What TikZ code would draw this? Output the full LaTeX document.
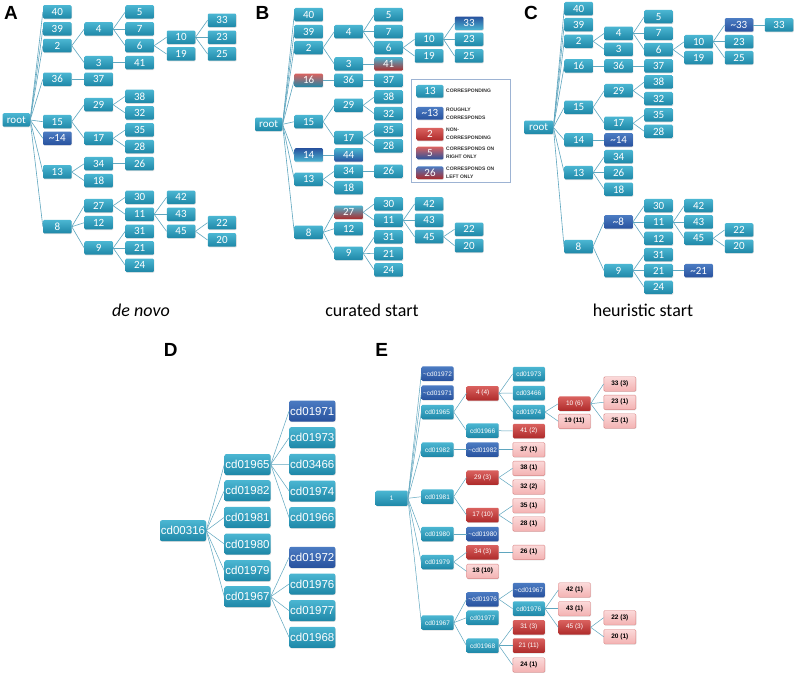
\documentclass[tikz,border=0pt]{standalone}
\usepackage{fontspec}
\setmainfont{Carlito}
\newfontfamily\arialf{Liberation Sans}
\usetikzlibrary{shadows}
\definecolor{tealT}{HTML}{4BB6D2}
\definecolor{tealB}{HTML}{1E87A7}
\definecolor{blueT}{HTML}{4B7BC2}
\definecolor{blueB}{HTML}{28529E}
\definecolor{redT}{HTML}{DA625F}
\definecolor{redB}{HTML}{AE2A2A}
\definecolor{pinkT}{HTML}{FBD9D9}
\definecolor{pinkB}{HTML}{F3B2B2}
\definecolor{pinkD}{HTML}{D98484}
\definecolor{edgec}{HTML}{5FA6BF}
\definecolor{legc}{HTML}{9DB3D3}
\tikzset{
 nb/.style={rectangle, rounded corners=1.2pt, minimum width=28.5pt, minimum height=13.5pt, inner sep=0pt, text=white, font=\fontsize{11}{11}\selectfont, drop shadow={opacity=0.25, shadow xshift=0.5pt, shadow yshift=-0.7pt}},
 tl/.style={nb, top color=tealT, bottom color=tealB},
 bl/.style={nb, top color=blueT, bottom color=blueB},
 rd/.style={nb, top color=redT, bottom color=redB},
 tealred/.style={nb, top color=tealT, middle color=tealB!70!redT, bottom color=redB},
 redteal/.style={nb, top color=redT, middle color=redT!40!tealB, bottom color=tealB},
 redblue/.style={nb, top color=redT, middle color=redT!40!blueB, bottom color=blueB},
 bluered/.style={nb, top color=blueT, middle color=blueB!60!redT, bottom color=redB},
 blueteal/.style={nb, top color=blueB, bottom color=tealT},
 tealblue/.style={nb, top color=tealT, bottom color=blueB},
 lnk/.style={draw=edgec, line width=0.6pt},
 dn/.style={minimum width=46pt, minimum height=21pt, rounded corners=2pt, font=\arialf\fontsize{11.5}{11.5}\selectfont},
 en/.style={minimum width=32pt, minimum height=14.5pt, font=\arialf\fontsize{6.5}{6.5}\selectfont},
 ep/.style={nb, en, top color=pinkT, bottom color=pinkB, draw=pinkD, line width=0.4pt, text=black, font=\arialf\bfseries\fontsize{6.5}{6.5}\selectfont},
 plabel/.style={font=\arialf\bfseries\fontsize{19}{19}\selectfont, inner sep=0pt},
 legtxt/.style={anchor=west, align=left, inner sep=0pt, text=black!80, font=\arialf\bfseries\fontsize{5}{8.4}\selectfont},
 captxt/.style={font=\fontsize{18}{18}\selectfont, inner sep=0pt}
}
\begin{document}
\begin{tikzpicture}[x=1pt,y=-1pt]
\path[use as bounding box, fill=white] (0,0) rectangle (795,676);
% ---------------- Panel A
\node[plabel] (labA) at (11,13.3) {A};
\node[tl, minimum width=27.3pt] (aroot) at (16.3,120) {root};
\node[tl] (a40) at (57.3,12) {40};
\node[tl] (a39) at (57.3,29) {39};
\node[tl] (a2) at (57.3,45.7) {2};
\node[tl] (a4) at (98.7,29) {4};
\node[tl] (a3) at (98.7,62.7) {3};
\node[tl] (a5) at (139.7,12) {5};
\node[tl] (a7) at (139.7,29) {7};
\node[tl] (a6) at (139.7,45.7) {6};
\node[tl] (a41) at (139.7,62.7) {41};
\node[tl] (a10) at (181,37.3) {10};
\node[tl] (a19) at (181,54) {19};
\node[tl] (a33) at (222,20.3) {33};
\node[tl] (a23) at (222,37.3) {23};
\node[tl] (a25) at (222,54) {25};
\node[tl] (a36) at (57.3,79.3) {36};
\node[tl] (a37) at (98.7,79.3) {37};
\node[tl] (a15) at (57.3,121.7) {15};
\node[bl] (a14) at (57.3,138.3) {\textasciitilde14};
\node[tl] (a29) at (98.7,104.7) {29};
\node[tl] (a17) at (98.7,138.3) {17};
\node[tl] (a38) at (139.7,96.3) {38};
\node[tl] (a32) at (139.7,113) {32};
\node[tl] (a35) at (139.7,130) {35};
\node[tl] (a28) at (139.7,146.7) {28};
\node[tl] (a13) at (57.3,172) {13};
\node[tl] (a34) at (98.7,163.7) {34};
\node[tl] (a18) at (98.7,180.7) {18};
\node[tl] (a26) at (139.7,163.7) {26};
\node[tl] (a8) at (57.3,226.7) {8};
\node[tl] (a27) at (98.7,205.7) {27};
\node[tl] (a12) at (98.7,222.7) {12};
\node[tl] (a9) at (98.7,248) {9};
\node[tl] (a30) at (139.7,197.3) {30};
\node[tl] (a11) at (139.7,214.3) {11};
\node[tl] (a31) at (139.7,231.3) {31};
\node[tl] (a21) at (139.7,248) {21};
\node[tl] (a24) at (139.7,265.3) {24};
\node[tl] (a42) at (181,197.3) {42};
\node[tl] (a43) at (181,214.3) {43};
\node[tl] (a45) at (181,231.3) {45};
\node[tl] (a22) at (222,222.7) {22};
\node[tl] (a20) at (222,240) {20};
\foreach \p/\c in {aroot/a40, aroot/a39, aroot/a2, aroot/a36, aroot/a15, aroot/a14, aroot/a13, aroot/a8, a2/a4, a2/a3, a4/a5, a4/a7, a4/a6, a6/a10, a6/a19, a10/a33, a10/a23, a10/a25, a3/a41, a36/a37, a15/a29, a15/a17, a29/a38, a29/a32, a17/a35, a17/a28, a13/a34, a13/a18, a34/a26, a8/a27, a8/a12, a8/a9, a27/a30, a27/a11, a11/a42, a11/a43, a11/a45, a45/a22, a45/a20, a9/a31, a9/a21, a9/a24}
  \draw[lnk] (\p.east) -- (\c.west);
\node[captxt] (capA) at (141,310) {\itshape de novo};
% ---------------- Panel B
\node[plabel] (labB) at (262.5,12.8) {B};
\node[tl, minimum width=27.3pt] (broot) at (268.7,124.3) {root};
\node[tl] (b40) at (308.7,14.7) {40};
\node[tl] (b39) at (308.7,31.7) {39};
\node[tl] (b2) at (308.7,47.7) {2};
\node[tl] (b4) at (348.7,31.7) {4};
\node[tl] (b3) at (348.7,64) {3};
\node[tl] (b5) at (388.7,14.7) {5};
\node[tl] (b7) at (388.7,31.7) {7};
\node[tl] (b6) at (388.7,47.7) {6};
\node[tealred] (b41) at (388.7,64) {41};
\node[tl] (b10) at (429,39.3) {10};
\node[tl] (b19) at (429,56) {19};
\node[blueteal] (b33) at (469,23.3) {33};
\node[tl] (b23) at (469,39.3) {23};
\node[tl] (b25) at (469,56) {25};
\node[redteal] (b16) at (308.7,80.3) {16};
\node[tl] (b36) at (348.7,80.3) {36};
\node[tl] (b37) at (388.7,80.3) {37};
\node[tl] (b38) at (388.7,97) {38};
\node[tl] (b29) at (348.7,105.3) {29};
\node[tl] (b32) at (388.7,113.7) {32};
\node[tl] (b15) at (308.7,121.7) {15};
\node[tl] (b17) at (348.7,137.7) {17};
\node[tl] (b35) at (388.7,130) {35};
\node[tl] (b28) at (388.7,146) {28};
\node[blueteal] (b14) at (308.7,155) {14};
\node[tealblue] (b44) at (348.7,155) {44};
\node[tl] (b34) at (348.7,171.3) {34};
\node[tl] (b13) at (308.7,179.3) {13};
\node[tl] (b18) at (348.7,187.7) {18};
\node[tl] (b26) at (388.7,171.3) {26};
\node[tl] (b30) at (388.7,204) {30};
\node[tealred] (b27) at (348.7,212.3) {27};
\node[tl] (b11) at (388.7,220.3) {11};
\node[tl] (b12) at (348.7,228.7) {12};
\node[tl] (b8) at (308.7,232.3) {8};
\node[tl] (b31) at (388.7,237) {31};
\node[tl] (b9) at (348.7,253.3) {9};
\node[tl] (b21) at (388.7,253.7) {21};
\node[tl] (b24) at (388.7,270) {24};
\node[tl] (b42) at (429,204) {42};
\node[tl] (b43) at (429,220.3) {43};
\node[tl] (b45) at (429,236.7) {45};
\node[tl] (b22) at (469,229.3) {22};
\node[tl] (b20) at (469,245.7) {20};
\foreach \p/\c in {broot/b40, broot/b39, broot/b2, broot/b16, broot/b15, broot/b14, broot/b13, broot/b8, b2/b4, b2/b3, b4/b5, b4/b7, b4/b6, b6/b10, b6/b19, b10/b33, b10/b23, b10/b25, b3/b41, b16/b36, b36/b37, b15/b29, b15/b17, b29/b38, b29/b32, b17/b35, b17/b28, b14/b44, b13/b34, b13/b18, b34/b26, b8/b27, b8/b12, b8/b9, b27/b30, b27/b11, b11/b42, b11/b43, b11/b45, b45/b22, b45/b20, b9/b31, b9/b21, b9/b24}
  \draw[lnk] (\p.east) -- (\c.west);
\node[captxt] (capB) at (372,310) {curated start};
% legend
\node[draw=legc, line width=0.8pt, minimum width=99pt, minimum height=103.5pt, inner sep=0pt] (legbox) at (461.2,130.8) {};
\node[tl, minimum width=26.7pt, minimum height=12.7pt] (l1) at (430,91.3) {13};
\node[bl, minimum width=26.7pt, minimum height=12.7pt] (l2) at (430,113.3) {\textasciitilde13};
\node[rd, minimum width=26.7pt, minimum height=12.7pt] (l3) at (430,134.3) {2};
\node[redblue, minimum width=26.7pt, minimum height=12.7pt] (l4) at (430,153) {5};
\node[bluered, minimum width=26.7pt, minimum height=12.7pt] (l5) at (430,172.8) {26};
\node[legtxt] (t1) at (446,91) {CORRESPONDING};
\node[legtxt] (t2) at (446,113.5) {ROUGHLY\\CORRESPONDS};
\node[legtxt] (t3) at (446,133.5) {NON-\\CORRESPONDING};
\node[legtxt] (t4) at (446,153) {CORRESPONDS ON\\RIGHT ONLY};
\node[legtxt] (t5) at (446,172.6) {CORRESPONDS ON\\LEFT ONLY};
% ---------------- Panel C
\node[plabel] (labC) at (531,13.3) {C};
\node[tl, minimum width=29pt] (croot) at (538.7,127.3) {root};
\node[tl] (c40) at (578.7,8.7) {40};
\node[tl] (c39) at (578.7,24.7) {39};
\node[tl] (c2) at (578.7,41.3) {2};
\node[tl] (c4) at (618.7,33.3) {4};
\node[tl] (c3) at (618.7,49.3) {3};
\node[tl] (c5) at (658.7,16.7) {5};
\node[tl] (c7) at (658.7,33.3) {7};
\node[tl] (c6) at (658.7,49.7) {6};
\node[tl] (c10) at (698.7,41.7) {10};
\node[tl] (c19) at (698.7,57.7) {19};
\node[bl] (c33t) at (739,25) {\textasciitilde33};
\node[tl] (c23) at (739,41.7) {23};
\node[tl] (c25) at (739,57.7) {25};
\node[tl] (c33) at (779,25) {33};
\node[tl] (c16) at (578.7,66) {16};
\node[tl] (c36) at (618.7,66) {36};
\node[tl] (c37) at (658.7,66) {37};
\node[tl] (c38) at (658.7,82) {38};
\node[tl] (c29) at (618.7,90.7) {29};
\node[tl] (c32) at (658.7,98.7) {32};
\node[tl] (c15) at (578.7,107.3) {15};
\node[tl] (c35) at (658.7,115) {35};
\node[tl] (c17) at (618.7,123.3) {17};
\node[tl] (c28) at (658.7,131.3) {28};
\node[tl] (c14) at (578.7,140) {14};
\node[bl] (c14t) at (618.7,140) {\textasciitilde14};
\node[tl] (c34) at (618.7,156.7) {34};
\node[tl] (c13) at (578.7,172.7) {13};
\node[tl] (c26) at (618.7,172.7) {26};
\node[tl] (c18) at (618.7,189.3) {18};
\node[tl] (c30) at (658.7,205.7) {30};
\node[bl] (c8t) at (618.5,222) {\textasciitilde8};
\node[tl] (c11) at (658.7,222) {11};
\node[tl] (c12) at (658.7,238.5) {12};
\node[tl] (c42) at (698.7,205.7) {42};
\node[tl] (c43) at (698.7,222) {43};
\node[tl] (c45) at (698.7,238.3) {45};
\node[tl] (c22) at (739,230) {22};
\node[tl] (c20) at (739,246.3) {20};
\node[tl] (c8) at (578.5,246.7) {8};
\node[tl] (c9) at (618.5,270.7) {9};
\node[tl] (c31) at (658.7,254.7) {31};
\node[tl] (c21) at (658.7,270.7) {21};
\node[tl] (c24) at (658.7,287.3) {24};
\node[bl] (c21t) at (698.7,270.7) {\textasciitilde21};
\foreach \p/\c in {croot/c40, croot/c39, croot/c2, croot/c16, croot/c15, croot/c14, croot/c13, croot/c8, c2/c4, c2/c3, c4/c5, c4/c7, c4/c6, c6/c10, c6/c19, c10/c33t, c10/c23, c10/c25, c33t/c33, c16/c36, c36/c37, c15/c29, c15/c17, c29/c38, c29/c32, c17/c35, c17/c28, c14/c14t, c13/c34, c13/c26, c13/c18, c8/c8t, c8/c9, c8t/c30, c8t/c11, c8t/c12, c11/c42, c11/c43, c11/c45, c45/c22, c45/c20, c9/c31, c9/c21, c9/c24, c21/c21t}
  \draw[lnk] (\p.east) -- (\c.west);
\node[captxt] (capC) at (643,310) {heuristic start};
% ---------------- Panel D
\node[plabel] (labD) at (170.8,350) {D};
\node[tl, dn] (d0316) at (183,530.7) {cd00316};
\node[tl, dn] (d1965) at (247.5,464.5) {cd01965};
\node[tl, dn] (d1982) at (247.5,490.7) {cd01982};
\node[tl, dn] (d1981) at (247.5,517.3) {cd01981};
\node[tl, dn] (d1980) at (247.5,544) {cd01980};
\node[tl, dn] (d1979) at (247.5,570.7) {cd01979};
\node[tl, dn] (d1967) at (247.5,596.7) {cd01967};
\node[bl, dn] (d1971) at (312.3,411) {cd01971};
\node[tl, dn] (d1973) at (312.3,437.7) {cd01973};
\node[tl, dn] (d3466) at (312.3,464.3) {cd03466};
\node[tl, dn] (d1974) at (312.3,491) {cd01974};
\node[tl, dn] (d1966) at (312.3,517.7) {cd01966};
\node[bl, dn] (d1972) at (312.3,557.3) {cd01972};
\node[tl, dn] (d1976) at (312.3,584) {cd01976};
\node[tl, dn] (d1977) at (312.3,610.7) {cd01977};
\node[tl, dn] (d1968) at (312.3,637.3) {cd01968};
\foreach \p/\c in {d0316/d1965, d0316/d1982, d0316/d1981, d0316/d1980, d0316/d1979, d0316/d1967, d1965/d1971, d1965/d1973, d1965/d3466, d1965/d1974, d1965/d1966, d1967/d1972, d1967/d1976, d1967/d1977, d1967/d1968}
  \draw[lnk, line width=0.5pt] (\p.east) -- (\c.west);
% ---------------- Panel E
\node[plabel] (labE) at (381.7,350) {E};
\node[tl, en, minimum height=15.3pt] (e1) at (391.7,498.3) {1};
\node[bl, en] (eT1972) at (437.5,373.7) {\textasciitilde cd01972};
\node[bl, en] (eT1971) at (437.5,392.7) {\textasciitilde cd01971};
\node[tl, en] (e1965) at (437.5,412) {cd01965};
\node[tl, en] (e1982) at (437.5,449.7) {cd01982};
\node[tl, en] (e1981) at (437.5,496.7) {cd01981};
\node[tl, en] (e1980) at (437.5,534) {cd01980};
\node[tl, en] (e1979) at (437.5,562) {cd01979};
\node[tl, en] (e1967) at (437.5,622.7) {cd01967};
\node[rd, en] (e4) at (482.7,393.3) {4 (4)};
\node[tl, en] (e1966) at (482.7,430.7) {cd01966};
\node[bl, en] (eT1982) at (482.7,449.7) {\textasciitilde cd01982};
\node[rd, en] (e29) at (482.7,477.5) {29 (3)};
\node[rd, en] (e17) at (482.7,515) {17 (10)};
\node[bl, en] (eT1980) at (482.7,534) {\textasciitilde cd01980};
\node[rd, en] (e34) at (482.7,552.3) {34 (3)};
\node[ep] (e18) at (482.7,571.3) {18 (10)};
\node[bl, en] (eT1976) at (482.7,599.3) {\textasciitilde cd01976};
\node[tl, en] (e1977) at (482.7,617.7) {cd01977};
\node[tl, en] (e1968) at (482.7,645.7) {cd01968};
\node[tl, en] (e1973) at (528.8,374) {cd01973};
\node[tl, en] (e3466) at (528.8,393) {cd03466};
\node[tl, en] (e1974) at (528.8,412) {cd01974};
\node[rd, en] (e41) at (528.8,431) {41 (2)};
\node[ep] (e37) at (528.8,449.7) {37 (1)};
\node[ep] (e38) at (528.8,468.3) {38 (1)};
\node[ep] (e32) at (528.8,487) {32 (2)};
\node[ep] (e35) at (528.8,505.7) {35 (1)};
\node[ep] (e28) at (528.8,524) {28 (1)};
\node[ep] (e26) at (528.8,552.3) {26 (1)};
\node[bl, en] (eT1967) at (528.8,590) {\textasciitilde cd01967};
\node[tl, en] (e1976) at (528.8,608.7) {cd01976};
\node[rd, en] (e31) at (528.8,627.3) {31 (3)};
\node[rd, en] (e21) at (528.8,645.7) {21 (11)};
\node[ep] (e24) at (528.8,665) {24 (1)};
\node[rd, en] (e10) at (574.5,403.7) {10 (6)};
\node[ep] (e19) at (574.5,421.3) {19 (11)};
\node[ep] (e42) at (574.5,590) {42 (1)};
\node[ep] (e43) at (574.5,608.7) {43 (1)};
\node[rd, en] (e45) at (574.5,627.3) {45 (3)};
\node[ep] (e33) at (619.8,384) {33 (3)};
\node[ep] (e23) at (619.8,402.3) {23 (1)};
\node[ep] (e25) at (619.8,421) {25 (1)};
\node[ep] (e22) at (619.8,617.7) {22 (3)};
\node[ep] (e20) at (619.8,636.7) {20 (1)};
\foreach \p/\c in {e1/eT1972, e1/eT1971, e1/e1965, e1/e1982, e1/e1981, e1/e1980, e1/e1979, e1/e1967, e1965/e4, e1965/e1966, e4/e1973, e4/e3466, e4/e1974, e1974/e10, e1974/e19, e10/e33, e10/e23, e10/e25, e1966/e41, e1982/eT1982, eT1982/e37, e1981/e29, e1981/e17, e29/e38, e29/e32, e17/e35, e17/e28, e1980/eT1980, e1979/e34, e1979/e18, e34/e26, e1967/eT1976, e1967/e1977, e1967/e1968, eT1976/eT1967, eT1976/e1976, e1976/e42, e1976/e43, e1976/e45, e45/e22, e45/e20, e1968/e31, e1968/e21, e1968/e24}
  \draw[lnk, line width=0.5pt] (\p.east) -- (\c.west);
\end{tikzpicture}
\end{document}
